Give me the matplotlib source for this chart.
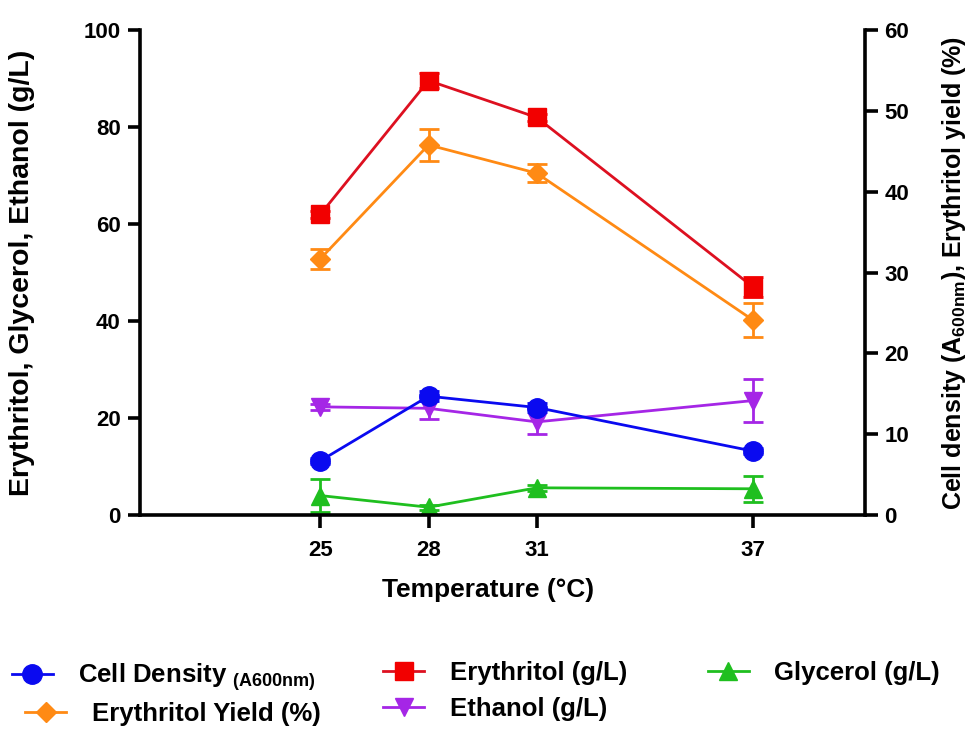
import matplotlib
matplotlib.use('Agg')
import matplotlib.pyplot as plt

plt.rcParams['font.family'] = ['Liberation Sans', 'DejaVu Sans']
plt.rcParams['font.weight'] = 'bold'
plt.rcParams['mathtext.fontset'] = 'custom'
plt.rcParams['mathtext.rm'] = 'Liberation Sans:bold'
plt.rcParams['mathtext.bf'] = 'Liberation Sans:bold'

# fermentation temperature screen, mean values with SD
temperature = [25, 28, 31, 37]
erythritol = [62.0, 89.6, 82.0, 47.0]
erythritol_sd = [0.8, 1.6, 0.8, 2.0]
glycerol = [4.0, 1.6, 5.6, 5.4]
glycerol_sd = [3.4, 0.5, 0.6, 2.7]
ethanol = [22.3, 22.0, 19.2, 23.6]
ethanol_sd = [0.6, 2.2, 2.6, 4.4]
# right axis series
cell_density = [6.7, 14.7, 13.3, 7.9]
cell_density_sd = [0.4, 0.6, 0.5, 0.4]
ery_yield = [31.7, 45.8, 42.3, 24.1]
ery_yield_sd = [1.2, 2.0, 1.1, 2.1]

c_blue = '#0a0af0'
c_red = '#f20000'
c_red_line = '#dd1020'
c_orange = '#ff8a14'
c_purple = '#a526e6'
c_green = '#1fbf1f'

fig = plt.figure(figsize=(9.68, 7.29), dpi=100)
ax = fig.add_axes([0.1446, 0.2936, 0.749, 0.665])
ax2 = ax.twinx()

def series(axis, y, err, color, marker, ms, line_color=None):
    axis.errorbar(temperature, y, yerr=err, fmt='none', ecolor=color,
                  elinewidth=2, capsize=7, capthick=2)
    ln, = axis.plot(temperature, y, color=line_color or color, lw=2,
                    marker=marker, ms=ms, mfc=color, mec=color)
    return ln

h_ery = series(ax, erythritol, erythritol_sd, c_red, 's', 13.5, c_red_line)
h_eth = series(ax, ethanol, ethanol_sd, c_purple, 'v', 13)
h_gly = series(ax, glycerol, glycerol_sd, c_green, '^', 13)
h_yld = series(ax2, ery_yield, ery_yield_sd, c_orange, 'D', 10)
h_cd = series(ax2, cell_density, cell_density_sd, c_blue, 'o', 14)

ax.set_xlim(20, 40.1)
ax.set_ylim(0, 100)
ax2.set_ylim(0, 60)
ax.set_xticks(temperature)
ax.set_yticks([0, 20, 40, 60, 80, 100])
ax2.set_yticks([0, 10, 20, 30, 40, 50, 60])

for a in (ax, ax2):
    a.spines['top'].set_visible(False)
    for s in a.spines.values():
        s.set_linewidth(2.6)
    a.tick_params(direction='out', length=9, width=2.6, labelsize=16, pad=5)
ax.tick_params(axis='x', pad=9)
ax2.spines['left'].set_visible(False)
ax2.spines['bottom'].set_visible(False)
ax.spines['right'].set_visible(False)

ax.set_xlabel('Temperature (°C)', fontsize=19, fontweight='bold')
ax.xaxis.set_label_coords(0.48, -0.131)
ax.set_ylabel('Erythritol, Glycerol, Ethanol (g/L)', fontsize=20.5,
              fontweight='bold')
ax.yaxis.set_label_coords(-0.145, 0.5)
ax2.set_ylabel(r'Cell density (A$_\mathrm{600nm}$), Erythritol yield (%)',
               fontsize=18, fontweight='bold')
ax2.yaxis.set_label_coords(1.103, 0.5)

legend_kw = dict(loc='upper left', frameon=False, fontsize=18.5, ncol=1,
                 handlelength=1.6, handletextpad=1.0, labelspacing=0.45,
                 borderpad=0, borderaxespad=0)
fig.legend([h_cd], [r'Cell Density $_\mathrm{(A600nm)}$'],
           bbox_to_anchor=(0.012, 0.093), **legend_kw)
fig.legend([h_yld], ['Erythritol Yield (%)'],
           bbox_to_anchor=(0.026, 0.037), **legend_kw)
fig.legend([h_ery, h_eth], ['Erythritol (g/L)', 'Ethanol (g/L)'],
           bbox_to_anchor=(0.396, 0.093), **legend_kw)
fig.legend([h_gly], ['Glycerol (g/L)'],
           bbox_to_anchor=(0.731, 0.093), **legend_kw)

fig.savefig('out.png', dpi=100)
